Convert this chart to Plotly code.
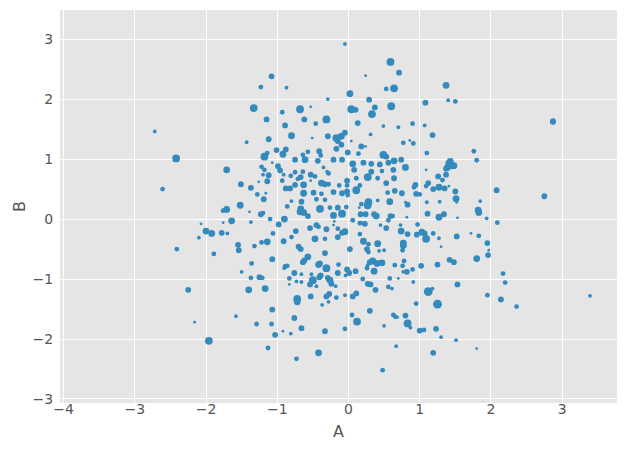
import plotly.graph_objects as go

# (A, B, size)
pts = [
(-0.05,2.92,3),(0.59,2.62,7),(0.71,2.44,5),(0.24,2.39,2),(0.53,2.17,4),(0.64,2.18,7),(0.02,2.09,6),(0.29,1.99,5),
(-0.29,2.0,3),(-0.53,1.87,2),(-0.68,1.83,7),(0.04,1.83,7),(0.10,1.82,5),(0.37,1.86,5),(0.60,1.88,7),(0.33,1.75,7),
(-0.87,2.19,3),(-0.62,1.66,5),(-0.31,1.66,7),(-1.08,2.38,5),(-1.23,2.2,4),(-1.33,1.85,7),(-0.93,1.78,4),(-1.15,1.66,5),
(1.37,2.23,6),(1.08,1.94,5),(1.40,1.98,3),(1.50,1.96,4),(2.87,1.63,5),
(-2.72,1.46,3),(-2.42,1.01,7),(-2.61,0.5,4),(-1.71,0.82,6),(-1.43,1.28,3),(-1.12,1.33,5),(-0.89,1.56,5),(-1.01,1.15,5),
(-1.14,1.1,4),(-1.18,1.04,7),(-0.92,1.08,6),(-0.88,1.16,5),(-1.07,0.94,2),(-0.99,0.88,5),(-0.96,0.81,5),(-1.22,0.87,4),
(-1.18,0.82,4),(-1.2,0.74,3),(-1.12,0.73,5),(-0.91,0.74,3),(-1.14,0.63,5),(-1.26,0.62,2),(-0.93,0.64,4),(-1.51,0.58,5),
(-1.37,0.52,5),(-0.88,0.51,5),(-1.28,0.41,4),(-1.16,0.43,2),(-1.19,0.33,5),(-1.52,0.23,6),(-1.71,0.16,6),(-1.76,0.14,4),
(-0.86,0.21,4),
(0.13,1.6,5),(0.49,1.55,3),(0.70,1.53,3),(0.90,1.59,4),(-0.46,1.59,4),(-0.80,1.39,6),(-0.51,1.35,2),(-0.29,1.38,5),
(-0.17,1.35,7),(-0.10,1.38,6),(-0.05,1.44,5),(-0.15,1.3,5),(-0.10,1.24,5),(0.31,1.41,3),(0.77,1.27,4),(0.86,1.31,2),
(0.91,1.26,4),(0.04,1.3,2),(0.18,1.21,5),(0.24,1.21,2),(-0.64,1.07,4),(-0.57,1.12,4),(-0.41,1.13,5),(-0.39,1.06,4),
(-0.17,1.17,5),(-0.01,1.11,5),(0.14,1.09,4),(0.49,1.07,7),(0.53,1.04,5),(-0.75,0.99,5),(-0.61,0.99,6),(-0.43,0.97,5),
(-0.21,0.99,5),(-0.09,0.99,5),(0.06,0.92,6),(0.21,0.94,5),(0.32,0.92,5),(0.44,0.91,5),(0.56,0.94,5),(0.64,0.97,6),
(0.74,0.99,5),(0.80,0.86,6),(0.63,0.82,5),(0.47,0.8,4),(0.32,0.79,5),(0.08,0.82,5),(0.27,0.7,7),(0.11,0.68,4),
(0.41,0.68,4),(0.53,0.6,5),(0.64,0.68,5),(0.94,0.57,5),(0.92,0.53,4),(0.95,0.42,5),(-0.02,0.64,5),(-0.02,0.56,4),
(0.16,0.56,4),(0.11,0.48,7),(-0.02,0.46,5),(-0.09,0.43,5),(-0.01,0.4,4),(0.28,0.28,7),(0.27,0.23,7),(0.41,0.31,3),
(0.58,0.29,6),(0.65,0.47,5),(0.55,0.44,4),(0.75,0.43,5),(0.80,0.28,2),(0.83,0.24,5),(1.00,0.41,4),
(-0.81,0.72,4),(-0.75,0.78,4),(-0.71,0.67,4),(-0.67,0.7,5),(-0.64,0.79,4),(-0.53,0.74,5),(-0.47,0.71,4),(-0.53,0.64,2),
(-0.35,0.86,3),(-0.30,0.79,3),(-0.28,0.76,4),(-0.38,0.6,6),(-0.33,0.58,5),(-0.28,0.58,4),(-0.13,0.56,4),(-0.63,0.57,6),
(-0.75,0.57,5),(-0.82,0.51,5),(-0.63,0.43,6),(-0.49,0.44,5),(-0.38,0.42,4),(-0.21,0.45,5),(-0.45,0.33,4),(-0.33,0.32,4),
(-0.80,0.3,3),(-0.66,0.29,5),(-0.40,0.17,7),(-0.26,0.19,4),(-0.15,0.19,5),(-0.03,0.2,4),(-0.67,0.17,6),(0.18,0.25,4),
(0.15,0.19,2),
(1.07,1.56,3),(1.18,1.4,5),(1.10,1.1,4),(1.76,1.13,4),(1.80,0.98,4),(2.87,1.62,5),(1.43,0.96,6),(1.41,0.93,6),
(1.44,0.91,5),(1.48,0.89,6),(1.39,0.86,6),(1.37,0.84,5),(1.45,0.88,5),(1.09,0.82,2),(1.26,0.71,5),(1.32,0.65,4),
(1.37,0.74,5),(1.12,0.6,5),(1.09,0.55,4),(1.19,0.5,5),(1.27,0.53,6),(1.35,0.51,5),(1.41,0.55,2),(1.50,0.46,5),
(1.51,0.34,6),(1.52,0.28,2),(1.28,0.29,3),(1.10,0.28,3),(1.85,0.3,3),(1.82,0.15,6),(2.08,0.48,5),(2.75,0.38,5),
(-2.41,-0.5,4),(-2.25,-1.18,5),(-2.07,-0.08,2),(-2.10,-0.31,3),(-2.00,-0.2,6),(-1.92,-0.24,6),(-1.78,-0.23,5),
(-1.70,-0.24,3),(-1.76,-0.06,2),(-1.64,-0.03,6),(-1.89,-0.58,4),(-1.39,0.12,2),(-1.23,0.08,5),(-1.20,0.1,4),
(-1.37,-0.05,3),(-1.10,0.0,4),(-0.98,-0.09,5),(-0.90,0.0,6),(-1.06,-0.24,4),(-1.14,-0.38,6),(-1.22,-0.39,4),
(-1.32,-0.45,4),(-1.55,-0.43,5),(-1.54,-0.52,5),(-0.91,-0.37,5),(-1.36,-0.74,4),(-1.07,-0.67,5),(-0.89,-0.79,4),
(-0.90,-0.82,3),(-1.50,-0.88,3),(-1.37,-0.98,4),(-1.25,-0.97,5),(-1.21,-0.98,4),(-1.40,-1.18,6),(-1.17,-1.16,6),
(-0.86,-0.78,4),
(-0.68,0.12,6),(-0.63,0.11,6),(-0.57,0.05,5),(-0.21,0.06,6),(-0.09,0.09,7),(0.17,0.08,5),(0.24,0.08,5),(0.36,0.08,5),
(0.39,0.05,6),(0.59,0.05,5),(0.62,0.05,4),(0.82,0.03,2),(0.18,-0.05,2),(-0.45,-0.1,5),(-0.42,-0.13,4),(-0.20,-0.04,2),
(-0.21,-0.1,2),(0.06,-0.02,4),(0.16,-0.07,4),(0.23,-0.08,5),(0.45,-0.1,3),(0.53,-0.15,5),(0.56,-0.02,4),(0.73,-0.1,3),
(0.97,-0.09,4),(0.74,-0.2,6),(0.83,-0.25,5),(0.96,-0.26,5),(1.03,-0.22,6),(-0.74,-0.2,5),(-0.54,-0.15,5),(-0.31,-0.17,5),
(-0.15,-0.16,4),(-0.09,-0.23,5),(-0.80,-0.3,4),(-0.47,-0.33,6),(-0.33,-0.33,4),(-0.15,-0.3,5),(-0.05,-0.21,6),
(0.16,-0.25,4),(0.21,-0.37,6),(0.41,-0.41,6),(0.28,-0.42,4),(0.77,-0.4,6),(0.77,-0.44,6),(0.02,-0.5,5),(0.26,-0.5,5),
(0.28,-0.55,4),(0.43,-0.53,3),(0.50,-0.52,3),(0.76,-0.52,4),(-0.70,-0.46,5),(-0.67,-0.5,5),(-0.33,-0.57,5),
(-0.57,-0.63,6),(-0.64,-0.72,5),(-0.62,-0.69,5),(-0.42,-0.76,6),(-0.40,-0.74,5),(-0.31,-0.82,7),(-0.14,-0.76,4),
(-0.02,-0.84,5),(0.10,-0.87,5),(0.26,-0.82,4),(0.30,-0.72,5),(0.34,-0.7,6),(0.40,-0.74,6),(0.47,-0.73,6),(0.36,-0.87,6),
(0.27,-0.77,3),(0.65,-0.77,4),(0.76,-0.78,4),(0.78,-0.7,4),(0.82,-0.88,5),(0.90,-0.84,4),(1.02,-0.78,5),(-0.76,-0.9,5),
(-0.66,-0.92,3),(-0.52,-0.92,3),(-0.41,-0.97,5),(-0.39,-0.94,5),(-0.29,-0.98,5),(-0.26,-1.02,6),(-0.15,-0.9,5),
(-0.04,-0.94,3),(0.01,-0.9,5),(0.20,-1.0,4),(0.58,-0.99,4),(0.70,-0.99,2),(0.77,-0.88,3),(0.91,-1.05,3),(-0.83,-0.99,4),
(-0.73,-1.04,3),(-0.66,-1.05,3),(-0.50,-1.02,7),(-0.54,-1.09,5),(-0.45,-1.12,3),(-0.18,-1.12,3),(-0.24,-1.08,5),
(0.27,-1.08,5),(0.31,-1.09,5),(0.38,-1.18,5),(0.56,-1.13,4),(0.61,-1.16,3),(-0.83,-1.09,2),(-0.72,-1.33,7),
(-0.53,-1.29,5),(-0.31,-1.29,5),(-0.27,-1.25,5),(-0.17,-1.31,4),(0.06,-1.29,5),(0.11,-1.24,5),(-0.05,-1.27,3),
(1.11,0.09,5),(1.27,0.03,6),(1.34,0.08,5),(1.53,0.02,2),(1.83,0.11,6),(1.94,0.01,3),(2.09,-0.06,4),(1.07,-0.24,5),
(1.09,-0.33,7),(1.19,-0.24,4),(1.27,-0.32,3),(1.52,-0.29,5),(1.72,-0.24,2),(1.83,-0.28,4),(1.95,-0.4,5),(1.97,-0.52,2),
(1.96,-0.6,5),(1.30,-0.46,2),(1.25,-0.76,5),(1.42,-0.68,5),(1.48,-0.72,5),(1.80,-0.66,6),(2.17,-0.91,4),(2.20,-1.06,4),
(1.12,-1.21,8),(1.18,-1.16,3),(1.53,-1.09,5),(1.95,-1.27,4),(2.14,-1.34,5),
(-2.16,-1.72,2),(-1.96,-2.03,7),(-1.58,-1.62,3),(-1.29,-1.75,4),(-1.07,-1.51,5),(-1.08,-1.75,4),(-1.03,-1.93,5),
(-0.92,-1.87,2),(-1.13,-2.15,4),
(-0.72,-1.38,6),(-0.37,-1.43,3),(-0.28,-1.38,3),(-0.76,-1.65,5),(-0.66,-1.82,5),(-0.81,-1.91,3),(-0.33,-1.87,5),
(-0.05,-1.83,4),(0.05,-1.6,4),(0.12,-1.71,7),(0.30,-1.53,5),(0.50,-1.78,3),(0.63,-1.6,4),(0.66,-1.63,4),(0.69,-1.64,2),
(0.80,-1.61,5),(0.83,-1.74,7),(0.87,-1.81,3),(0.95,-1.41,4),(1.00,-1.86,5),(-0.42,-2.23,6),(-0.73,-2.33,4),
(0.67,-2.12,3),(0.48,-2.52,4),
(1.25,-1.42,8),(1.06,-1.85,4),(1.23,-1.83,5),(1.30,-1.97,3),(1.51,-2.02,3),(1.80,-2.16,2),(1.19,-2.23,5),
(2.36,-1.46,4),(3.39,-1.28,3),
]
A = [p[0] for p in pts]
B = [p[1] for p in pts]
S = [p[2] for p in pts]

x_ticks = [-4, -3, -2, -1, 0, 1, 2, 3]
y_ticks = [-3, -2, -1, 0, 1, 2, 3]

fig = go.Figure(go.Scatter(
    x=A, y=B, mode="markers",
    marker=dict(size=[s + 0.8 for s in S], color="#348ABD", line=dict(width=0), opacity=1),
    hoverinfo="skip",
))

font = "DejaVu Sans, sans-serif"
# the page body adds an 8px offset; the figure is sized to fill the rest of the window
fig.update_layout(
    width=617, height=443,
    margin=dict(l=52, r=8, t=2, b=48, autoexpand=False),
    paper_bgcolor="white", plot_bgcolor="#E5E5E5",
    showlegend=False,
    font=dict(family=font, color="#555555", size=14),
)
fig.update_xaxes(range=[-4.05, 3.77], tickvals=x_ticks, showgrid=True, gridcolor="white", gridwidth=1.2,
                 zeroline=False, showline=False, ticks="", ticklabelstandoff=-4,
                 automargin=False,
                 title=dict(text="A", font=dict(size=16, color="#555555"), standoff=9),
                 tickfont=dict(size=14, color="#555555"))
fig.update_yaxes(range=[-3.067, 3.485], tickvals=y_ticks, showgrid=True, gridcolor="white", gridwidth=1.2,
                 zeroline=False, showline=False, ticks="outside", ticklen=3, tickcolor="rgba(0,0,0,0)",
                 automargin=False,
                 title=dict(text="B", font=dict(size=16, color="#555555"), standoff=2),
                 tickfont=dict(size=14, color="#555555"))
fig.write_html("out.html")
